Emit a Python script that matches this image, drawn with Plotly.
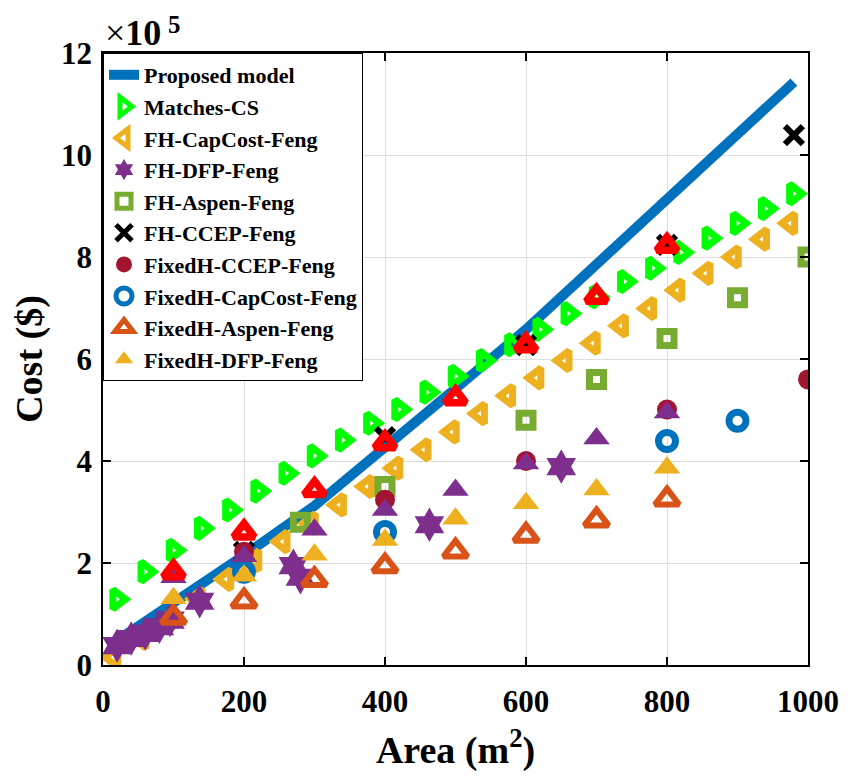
import plotly.graph_objects as go

# ---------------- data (cost in units of 1e5 $) ----------------
area_proposed = [20, 100, 200, 300, 400, 500, 600, 700, 800, 900, 980]
cost_proposed = [0.48, 1.20, 2.15, 3.12, 4.25, 5.42, 6.58, 7.84, 9.13, 10.42, 11.43]

area_matches = [20, 60, 100, 140, 180, 220, 260, 300, 340, 380, 420, 460, 500,
                540, 580, 620, 660, 700, 740, 780, 820, 860, 900, 940, 980]
cost_matches = [1.29, 1.83, 2.25, 2.68, 3.04, 3.41, 3.76, 4.10, 4.41, 4.74, 5.01,
                5.35, 5.66, 5.97, 6.28, 6.58, 6.89, 7.22, 7.52, 7.78, 8.09, 8.37,
                8.66, 8.95, 9.24]

area_capcost = [15, 55, 95, 135, 175, 215, 255, 295, 335, 375, 415, 455, 495,
                535, 575, 615, 655, 695, 735, 775, 815, 855, 895, 935, 975]
cost_capcost = [0.15, 0.52, 0.92, 1.30, 1.68, 2.05, 2.42, 2.78, 3.14, 3.50, 3.86,
                4.22, 4.57, 4.93, 5.28, 5.63, 5.97, 6.31, 6.65, 6.99, 7.35, 7.68,
                8.00, 8.35, 8.66]

area_dfp = [20, 40, 60, 80, 95, 137, 270, 280, 463, 650]
cost_dfp = [0.38, 0.52, 0.62, 0.75, 0.88, 1.25, 1.95, 1.72, 2.75, 3.89]

area_aspen = [280, 400, 600, 700, 800, 900, 1000]
cost_aspen = [2.80, 3.50, 4.80, 5.60, 6.40, 7.20, 8.00]

area_ccep = [200, 400, 600, 800, 980]
cost_ccep = [2.22, 4.47, 6.27, 8.24, 10.39]

area_fixed_ccep = [200, 400, 600, 800, 1000]
cost_fixed_ccep = [2.22, 3.24, 4.00, 5.01, 5.60]

area_fixed_capcost = [200, 400, 800, 900]
cost_fixed_capcost = [1.83, 2.61, 4.39, 4.79]

area_fixed = [100, 200, 300, 400, 500, 600, 700, 800]
cost_fixed_aspen = [0.93, 1.25, 1.67, 1.94, 2.23, 2.54, 2.84, 3.25]
cost_fixed_dfp = [1.31, 1.75, 2.16, 2.45, 2.87, 3.17, 3.44, 3.87]
cost_extra_purple = [1.72, 2.13, 2.65, 3.04, 3.43, 3.95, 4.44, 4.95]
cost_extra_red = [1.82, 2.60, 3.43, 4.35, 5.23, 6.27, 7.22, 8.22]

x_ticks = [0, 200, 400, 600, 800, 1000]
y_ticks = [0, 2, 4, 6, 8, 10, 12]

FONT = "Liberation Serif, Times New Roman, serif"

fig = go.Figure()

fig.add_trace(go.Scatter(x=area_proposed, y=cost_proposed, mode="lines",
                         name="Proposed model",
                         line=dict(color="#0072BD", width=10)))
fig.add_trace(go.Scatter(x=area_matches, y=cost_matches, mode="markers",
                         name="Matches-CS",
                         marker=dict(symbol="triangle-right-open", size=17,
                                     color="#00FF00", line=dict(width=7))))
fig.add_trace(go.Scatter(x=area_capcost, y=cost_capcost, mode="markers",
                         name="FH-CapCost-Feng",
                         marker=dict(symbol="triangle-left-open", size=17,
                                     color="#EDB120", line=dict(width=7))))
fig.add_trace(go.Scatter(x=area_dfp, y=cost_dfp, mode="markers",
                         name="FH-DFP-Feng",
                         marker=dict(symbol="hexagram", size=26,
                                     color="#7E2F8E", line=dict(width=0))))
fig.add_trace(go.Scatter(x=area_aspen, y=cost_aspen, mode="markers",
                         name="FH-Aspen-Feng",
                         marker=dict(symbol="square-open", size=14,
                                     color="#77AC30", line=dict(width=7))))
fig.add_trace(go.Scatter(x=area_ccep, y=cost_ccep, mode="markers",
                         name="FH-CCEP-Feng",
                         marker=dict(symbol="x-thin-open", size=18,
                                     color="black", line=dict(width=6, color="black"))))
fig.add_trace(go.Scatter(x=area_fixed_ccep, y=cost_fixed_ccep, mode="markers",
                         name="FixedH-CCEP-Feng",
                         marker=dict(symbol="circle", size=20,
                                     color="#A2142F", line=dict(width=0))))
fig.add_trace(go.Scatter(x=area_fixed_capcost, y=cost_fixed_capcost, mode="markers",
                         name="FixedH-CapCost-Feng",
                         marker=dict(symbol="circle-open", size=17,
                                     color="#0072BD", line=dict(width=7))))
fig.add_trace(go.Scatter(x=area_fixed, y=cost_fixed_aspen, mode="markers",
                         name="FixedH-Aspen-Feng",
                         marker=dict(symbol="triangle-up-open", size=21,
                                     color="#D95319", line=dict(width=6))))
fig.add_trace(go.Scatter(x=area_fixed, y=cost_fixed_dfp, mode="markers",
                         name="FixedH-DFP-Feng",
                         marker=dict(symbol="triangle-up", size=23,
                                     color="#EDB120", line=dict(width=0))))
fig.add_trace(go.Scatter(x=area_fixed, y=cost_extra_purple, mode="markers",
                         name="Series 11", showlegend=False,
                         marker=dict(symbol="triangle-up", size=23,
                                     color="#7E2F8E", line=dict(width=0))))
fig.add_trace(go.Scatter(x=area_fixed, y=cost_extra_red, mode="markers",
                         name="Series 12", showlegend=False,
                         marker=dict(symbol="triangle-up-open", size=18,
                                     color="#FF0000", line=dict(width=7.5))))

axis_common = dict(
    showline=True, linecolor="black", linewidth=1.5, mirror="ticks",
    ticks="inside", ticklen=8, tickwidth=1.5, tickcolor="black",
    showgrid=True, gridcolor="#DEDEDE", gridwidth=1,
    zeroline=False, automargin=False,
    tickfont=dict(family=FONT, size=31, color="black", weight="bold"),
)

fig.update_xaxes(range=[0, 1000], tickvals=x_ticks, ticklabelstandoff=8,
                 title=dict(text="Area (m<sup>2</sup>)", standoff=18,
                            font=dict(family=FONT, size=38, color="black", weight="bold")),
                 **axis_common)
fig.update_yaxes(range=[0, 12], tickvals=y_ticks, ticklabelstandoff=3,
                 title=dict(text="Cost ($)", standoff=12,
                            font=dict(family=FONT, size=38, color="black", weight="bold")),
                 **axis_common)

# axis exponent label "×10^5"
fig.add_annotation(xref="paper", yref="paper", x=0, y=1, xanchor="left",
                   yanchor="bottom", xshift=0, yshift=-2, showarrow=False,
                   text="<span style='font-weight:normal'>×</span>10",
                   font=dict(family=FONT, size=36, color="black", weight="bold"))
fig.add_annotation(xref="paper", yref="paper", x=0, y=1, xanchor="left",
                   yanchor="bottom", xshift=63, yshift=13, showarrow=False,
                   text="5",
                   font=dict(family=FONT, size=25, color="black", weight="bold"))

fig.update_layout(
    width=850, height=778,
    margin=dict(l=95, r=50, t=45, b=121),
    plot_bgcolor="white", paper_bgcolor="white",
    legend=dict(x=0, y=1, xanchor="left", yanchor="top",
                bgcolor="white", bordercolor="black", borderwidth=1,
                font=dict(family=FONT, size=22, color="black", weight="bold"),
                tracegroupgap=0),
)

fig.write_html("out.html")
